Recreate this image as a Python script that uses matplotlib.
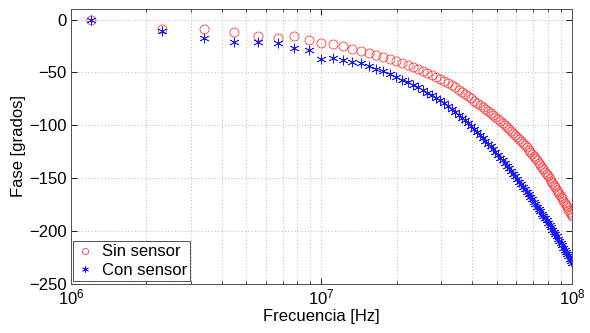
import matplotlib
matplotlib.use("Agg")
import matplotlib.pyplot as plt
import numpy as np

plt.rcParams['font.family'] = ['Liberation Sans', 'DejaVu Sans']
plt.rcParams['mathtext.fontset'] = 'custom'
plt.rcParams['mathtext.rm'] = 'Liberation Sans'
plt.rcParams['mathtext.it'] = 'Liberation Sans'

# Frequency grid in MHz
freq_mhz = [1.2, 2.30, 3.40, 4.49, 5.59, 6.69, 7.79, 8.88, 9.98, 11.08,
            12.18, 13.28, 14.37, 15.47, 16.57, 17.67, 18.76, 19.86, 20.96, 22.06,
            23.16, 24.25, 25.35, 26.45, 27.55, 28.65, 29.74, 30.84, 31.94, 33.04,
            34.13, 35.23, 36.33, 37.43, 38.53, 39.62, 40.72, 41.82, 42.92, 44.01,
            45.11, 46.21, 47.31, 48.41, 49.50, 50.60, 51.70, 52.80, 53.89, 54.99,
            56.09, 57.19, 58.29, 59.38, 60.48, 61.58, 62.68, 63.77, 64.87, 65.97,
            67.07, 68.17, 69.26, 70.36, 71.46, 72.56, 73.65, 74.75, 75.85, 76.95,
            78.05, 79.14, 80.24, 81.34, 82.44, 83.54, 84.63, 85.73, 86.83, 87.93,
            89.02, 90.12, 91.22, 92.32, 93.42, 94.51, 95.61, 96.71, 97.81, 98.90,
            100.0]

fase_sin = [0, -8.8, -9.1, -12, -15.4, -17.3, -16, -19.8, -22, -23.6,
            -25.5, -27.7, -29.6, -31.8, -33.3, -35.5, -37.4, -39.3, -41, -43,
            -45, -47, -49, -50.8, -52.6, -54.5, -56.3, -58.2, -60.2, -62.3,
            -64.3, -66.4, -68.4, -70.5, -72.6, -74.7, -76.8, -78.8, -80.8, -82.8,
            -84.8, -86.7, -88.7, -90.6, -92.5, -94.5, -96.3, -98.2, -100.0, -101.9,
            -103.7, -105.5, -107.3, -109.2, -111.2, -113.2, -115.2, -117.1, -119.1, -121.1,
            -123.1, -125.1, -127.1, -129.2, -131.3, -133.4, -135.5, -137.7, -139.8, -141.9,
            -144.0, -146.2, -148.4, -150.5, -152.6, -154.7, -156.8, -158.9, -161.0, -163.1,
            -165.2, -167.3, -169.4, -171.5, -173.6, -175.7, -177.8, -180.0, -182.1, -184.1,
            -186.2]

fase_con = [0, -11, -17.6, -21, -21.4, -22, -27, -28.8, -37, -36.2,
            -38.1, -40.3, -41.2, -43.7, -46.9, -49, -51.9, -54.4, -56.8, -59.3,
            -61.8, -64.3, -66.8, -69.3, -71.8, -74.3, -76.5, -79.1, -81.9, -84.6,
            -87.4, -90.1, -92.9, -95.6, -98.4, -101.1, -103.8, -106.6, -109.3, -112.0,
            -114.8, -117.5, -120.2, -123.0, -125.7, -128.4, -130.9, -133.4, -135.9, -138.5,
            -141.0, -143.5, -146.0, -148.6, -151.1, -153.5, -155.9, -158.3, -160.7, -163.1,
            -165.5, -168.0, -170.4, -172.7, -174.9, -177.1, -179.3, -181.5, -183.7, -185.9,
            -188.1, -190.3, -192.5, -194.6, -196.8, -198.9, -201.0, -203.2, -205.3, -207.5,
            -209.6, -211.7, -213.8, -215.9, -218.0, -220.1, -222.2, -224.3, -226.4, -228.4,
            -230.5]

labels = ['Sin sensor', 'Con sensor']
yticks = [0, -50, -100, -150, -200, -250]

freq_hz = np.array(freq_mhz) * 1e6

fig = plt.figure(figsize=(5.9, 3.33), dpi=100)
ax = fig.add_axes([0.1203, 0.1486, 0.8492, 0.8244])

ax.plot(freq_hz, fase_sin, linestyle='none', marker='o', markersize=6.5,
        markerfacecolor='none', markeredgecolor='#ff3030', markeredgewidth=0.55,
        label=labels[0])
ax.plot(freq_hz, fase_con, linestyle='none', marker=(6, 2, 0), markersize=7,
        markeredgecolor='#1a1aff', color='#1a1aff', markeredgewidth=0.55,
        label=labels[1])

ax.set_xscale('log')
ax.set_xlim(1e6, 1e8)
ax.set_ylim(-250, 10)
ax.set_yticks(yticks)

ax.grid(True, which='major', linestyle=(0, (1, 2)), color='#c0c0c0', linewidth=0.8)
ax.grid(True, which='minor', axis='x', linestyle=(0, (1, 2)), color='#c0c0c0', linewidth=0.8)

ax.tick_params(which='both', direction='in', top=True, right=True, labelsize=12)
ax.tick_params(which='major', length=4, width=0.6, pad=3)
ax.tick_params(which='minor', length=2, width=0.5)
for s in ax.spines.values():
    s.set_linewidth(0.7)
    s.set_color('#505050')

ax.set_xlabel('Frecuencia [Hz]', fontsize=12, labelpad=1)
ax.set_ylabel('Fase [grados]', fontsize=12, labelpad=2)

leg = ax.legend(loc='lower left', fontsize=12, fancybox=False, framealpha=1,
                edgecolor='#505050', borderaxespad=0.15, handlelength=1.0,
                handletextpad=0.5, borderpad=0.2, labelspacing=0.2, markerscale=0.7)
leg.get_frame().set_linewidth(0.7)

fig.savefig('out.png', dpi=100)
